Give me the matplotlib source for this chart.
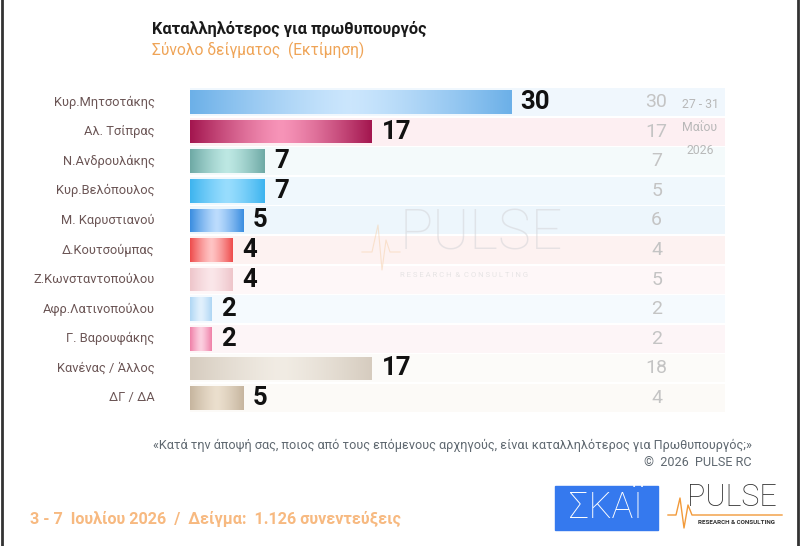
import matplotlib
matplotlib.use("Agg")
import matplotlib.pyplot as plt
import numpy as np
from matplotlib.colors import LinearSegmentedColormap
from matplotlib.patches import Rectangle
from matplotlib.lines import Line2D

plt.rcParams['font.family'] = ['Roboto', 'DejaVu Sans']

categories = ["Κυρ.Μητσοτάκης", "Αλ. Τσίπρας", "Ν.Ανδρουλάκης", "Κυρ.Βελόπουλος",
              "Μ. Καρυστιανού", "Δ.Κουτσούμπας", "Ζ.Κωνσταντοπούλου",
              "Αφρ.Λατινοπούλου", "Γ. Βαρουφάκης", "Κανένας / Άλλος", "ΔΓ / ΔΑ"]
current = [30, 17, 7, 7, 5, 4, 4, 2, 2, 17, 5]
previous = [30, 17, 7, 5, 6, 4, 5, 2, 2, 18, 4]
edge_colors = ["#6cb0e8", "#a3164f", "#6ea9a5", "#3db4ef", "#3a8de0", "#ee4b4b",
               "#eec5ca", "#aed6f4", "#ef7fa7", "#d6ccbf", "#c6b59e"]
mid_colors = ["#cbe6fd", "#f794b8", "#bde8e3", "#98ddfe", "#bcdcfd", "#ffc4c4",
              "#fbe7ea", "#e2f1fd", "#fcd0e0", "#f1ece4", "#ebdfce"]
stripe_colors = ["#f0f7fd", "#fdeff2", "#f4fafb", "#f0f8fd", "#edf6fc", "#fdf2f1",
                 "#fef7f8", "#f5fafe", "#fdf5f7", "#fcfbf9", "#fcfaf7"]

fig = plt.figure(figsize=(8, 5.46), dpi=100)
ax = fig.add_axes([0.2375, 1 - 412.8 / 546, 0.66875, 325.6 / 546])
ax.set_xlim(0, 50)
ax.set_ylim(len(categories) - 0.5, -0.5)
ax.axis('off')

y = np.arange(len(categories))
# background stripes
ax.barh(y, [50] * len(y), height=0.94, left=0, color=stripe_colors, zorder=0)

bars = ax.barh(y, current, height=0.8, color=edge_colors, zorder=2)
grad = np.array([np.abs(np.linspace(-1, 1, 256))])
for b, v, c1, c2, yy in zip(bars, current, edge_colors, mid_colors, y):
    cmap = LinearSegmentedColormap.from_list("g", [c2, c1])
    im = ax.imshow(grad ** 1.3, aspect='auto', cmap=cmap, zorder=3,
                   extent=(0, v, yy + 0.4, yy - 0.4), interpolation='bicubic')
    im.set_clip_path(b)
    ax.text(v + 0.9, yy, str(v), va='center', ha='left', fontsize=18.5,
            fontweight='bold', color='#111111', zorder=4)
    ax.text(43.6, yy, str(previous[int(yy)]), va='center', ha='center',
            fontsize=14, color='#c4c4c4', zorder=4)
    ax.text(-3.3, yy, categories[int(yy)], va='center', ha='right',
            fontsize=9.3, color='#6b5555')

ax.set_xlim(0, 50)
ax.set_ylim(len(categories) - 0.5, -0.5)

# watermark
fig.text(0.5, 0.572, "PULSE", fontsize=40, color='#d4d4d8', alpha=0.55,
         fontweight='light', ha='left', va='center')
fig.text(0.5, 0.497, "R E S E A R C H  &  C O N S U L T I N G", fontsize=5.6,
         color='#dcdcdc', alpha=0.7, ha='left', va='center')
wx = np.array([362, 372, 378, 382, 386, 390, 400]) / 800
wy = 1 - np.array([252, 252, 225, 270, 240, 252, 252]) / 546
fig.lines.append(Line2D(wx, wy, transform=fig.transFigure, color='#f6cfa8',
                        lw=0.8, alpha=0.5))

# titles
fig.text(152 / 800, 1 - 29 / 546, "Καταλληλότερος για πρωθυπουργός", fontsize=11.8,
         fontweight='bold', color='#1a1a1a', ha='left', va='center')
fig.text(152 / 800, 1 - 50 / 546, "Σύνολο δείγματος  (Εκτίμηση)", fontsize=11.2,
         color='#efa457', ha='left', va='center')

# previous date
for txt, yy in zip(["27 - 31", "Μαΐου", "2026"], [104, 127, 150]):
    fig.text(700 / 800, 1 - yy / 546, txt, fontsize=8.8, color='#b8b8b8',
             ha='center', va='center')

# footer
fig.text(752 / 800, 1 - 445 / 546,
         "«Κατά την άποψή σας, ποιος από τους επόμενους αρχηγούς, είναι καταλληλότερος για Πρωθυπουργός;»",
         fontsize=9.1, color='#5f6870', ha='right', va='center')
fig.text(752 / 800, 1 - 462 / 546, "©  2026  PULSE RC", fontsize=9.1,
         color='#5f6870', ha='right', va='center')
fig.text(30 / 800, 1 - 519 / 546,
         "3 - 7  Ιουλίου 2026  /  Δείγμα:  1.126 συνεντεύξεις", fontsize=11.6,
         fontweight='bold', color='#f7b980', ha='left', va='center')

# SKAI logo
fig.patches.append(Rectangle((555 / 800, 1 - 530 / 546), 103 / 800, 44 / 546,
                             transform=fig.transFigure, color='#3579ee'))
fig.text(606 / 800, 1 - 508 / 546, "ΣΚΑΪ", fontsize=26, color='white',
         ha='center', va='center', fontweight='light')

# PULSE logo
fig.text(732 / 800, 1 - 498 / 546, "PULSE", fontsize=22, color='#303030',
         ha='center', va='center', fontweight='light')
fig.text(736 / 800, 1 - 523 / 546, "RESEARCH & CONSULTING", fontsize=4.5,
         color='#303030', ha='center', va='center', fontweight='bold')
px = np.array([668, 676, 680, 684, 688, 692, 700, 782]) / 800
py = 1 - np.array([515, 515, 498, 528, 505, 515, 515, 515]) / 546
fig.lines.append(Line2D(px, py, transform=fig.transFigure, color='#f29a3a', lw=1))

# frame lines
fig.lines.append(Line2D([0.002, 0.002], [0, 1], transform=fig.transFigure, color='#333333', lw=2))
fig.lines.append(Line2D([0.997, 0.997], [0, 1], transform=fig.transFigure, color='#333333', lw=2))

fig.savefig("out.png", dpi=100)
